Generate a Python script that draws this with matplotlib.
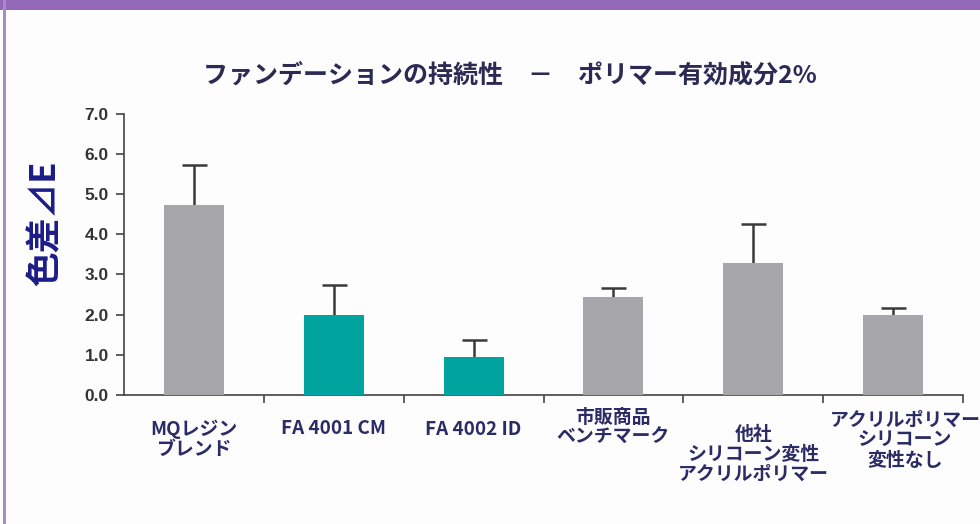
import numpy as np
from matplotlib import pyplot as plt
from matplotlib.patches import Rectangle
from matplotlib.ticker import FixedLocator

plt.rcParams['font.family'] = ['Noto Sans CJK JP', 'DejaVu Sans']

labels = ['MQレジン\nブレンド', 'FA 4001 CM', 'FA 4002 ID', '市販商品\nベンチマーク',
          '他社\nシリコーン変性\nアクリルポリマー', 'アクリルポリマー\nシリコーン\n変性なし']
values = [4.73, 2.0, 0.95, 2.43, 3.28, 1.99]
errors = [0.99, 0.74, 0.42, 0.24, 0.97, 0.17]
colors = ['#a6a6ab', '#00a39e', '#00a39e', '#a6a6ab', '#a6a6ab', '#a6a6ab']
yticks = [0.0, 1.0, 2.0, 3.0, 4.0, 5.0, 6.0, 7.0]
# label block offsets from the tick position (pixels)
label_dx = [0, 0, 0, 0, 0, 12]
label_drop = [25, 24, 25, 13, 30, 16]

fig = plt.figure(figsize=(9.8, 5.24), dpi=100)
fig.patch.set_facecolor('#fefdfd')
# purple frame
fig.patches.append(Rectangle((0, 1 - 10/524), 1, 10/524, transform=fig.transFigure,
                             facecolor='#9468b9', edgecolor='none', zorder=0))
fig.patches.append(Rectangle((3/980, 0), 3/980, 1, transform=fig.transFigure,
                             facecolor='#a58cc8', edgecolor='none', zorder=0))

ax = fig.add_axes([124/980, 1 - 395/524, (963 - 124)/980, (395 - 113.5)/524])
ax.set_facecolor('none')
x = np.arange(len(values))
ax.bar(x, values, width=0.43, color=colors, zorder=3)
ax.errorbar(x, values, yerr=errors, fmt='none',
            ecolor='#3a3a3a', elinewidth=1.8, capsize=9, capthick=1.8, zorder=2)

ax.set_xlim(-0.5, len(values) - 0.5)
ax.set_ylim(0, 7.0)
ax.set_yticks(yticks)
ax.set_yticklabels(['%.1f' % v for v in yticks], fontsize=12.5, color='#333333',
                   fontweight='bold', family='Liberation Sans')
ax.set_xticks(x)
ax.set_xticklabels([])
ax.tick_params(axis='x', which='major', length=0)
ax.xaxis.set_minor_locator(FixedLocator(np.arange(0.5, len(values), 1.0)))
ax.tick_params(axis='x', which='minor', length=6, width=1.2, color='#444444', direction='out')
ax.tick_params(axis='y', length=6, width=1.2, color='#444444', pad=5)
for s in ['top', 'right']:
    ax.spines[s].set_visible(False)
for s in ['left', 'bottom']:
    ax.spines[s].set_color('#444444')
    ax.spines[s].set_linewidth(1.2)

for i, lab in enumerate(labels):
    ax.annotate(lab, xy=(x[i], 0), xycoords=('data', 'axes fraction'),
                xytext=(label_dx[i], -label_drop[i]), textcoords='offset pixels',
                ha='center', va='top', fontsize=13.6, color='#2b2b66',
                fontweight='bold', linespacing=1.05, annotation_clip=False)

fig.text(510/980, 1 - 75/524, 'ファンデーションの持続性　－　ポリマー有効成分2%',
         ha='center', va='center', fontsize=18, color='#2a2a55', fontweight='bold')
fig.text(45/980, 1 - 223/524, '色差⊿E', rotation=90, ha='center', va='center',
         fontsize=25, color='#1c1c88', fontweight='bold')

fig.savefig('out.png', dpi=100, facecolor=fig.get_facecolor())
